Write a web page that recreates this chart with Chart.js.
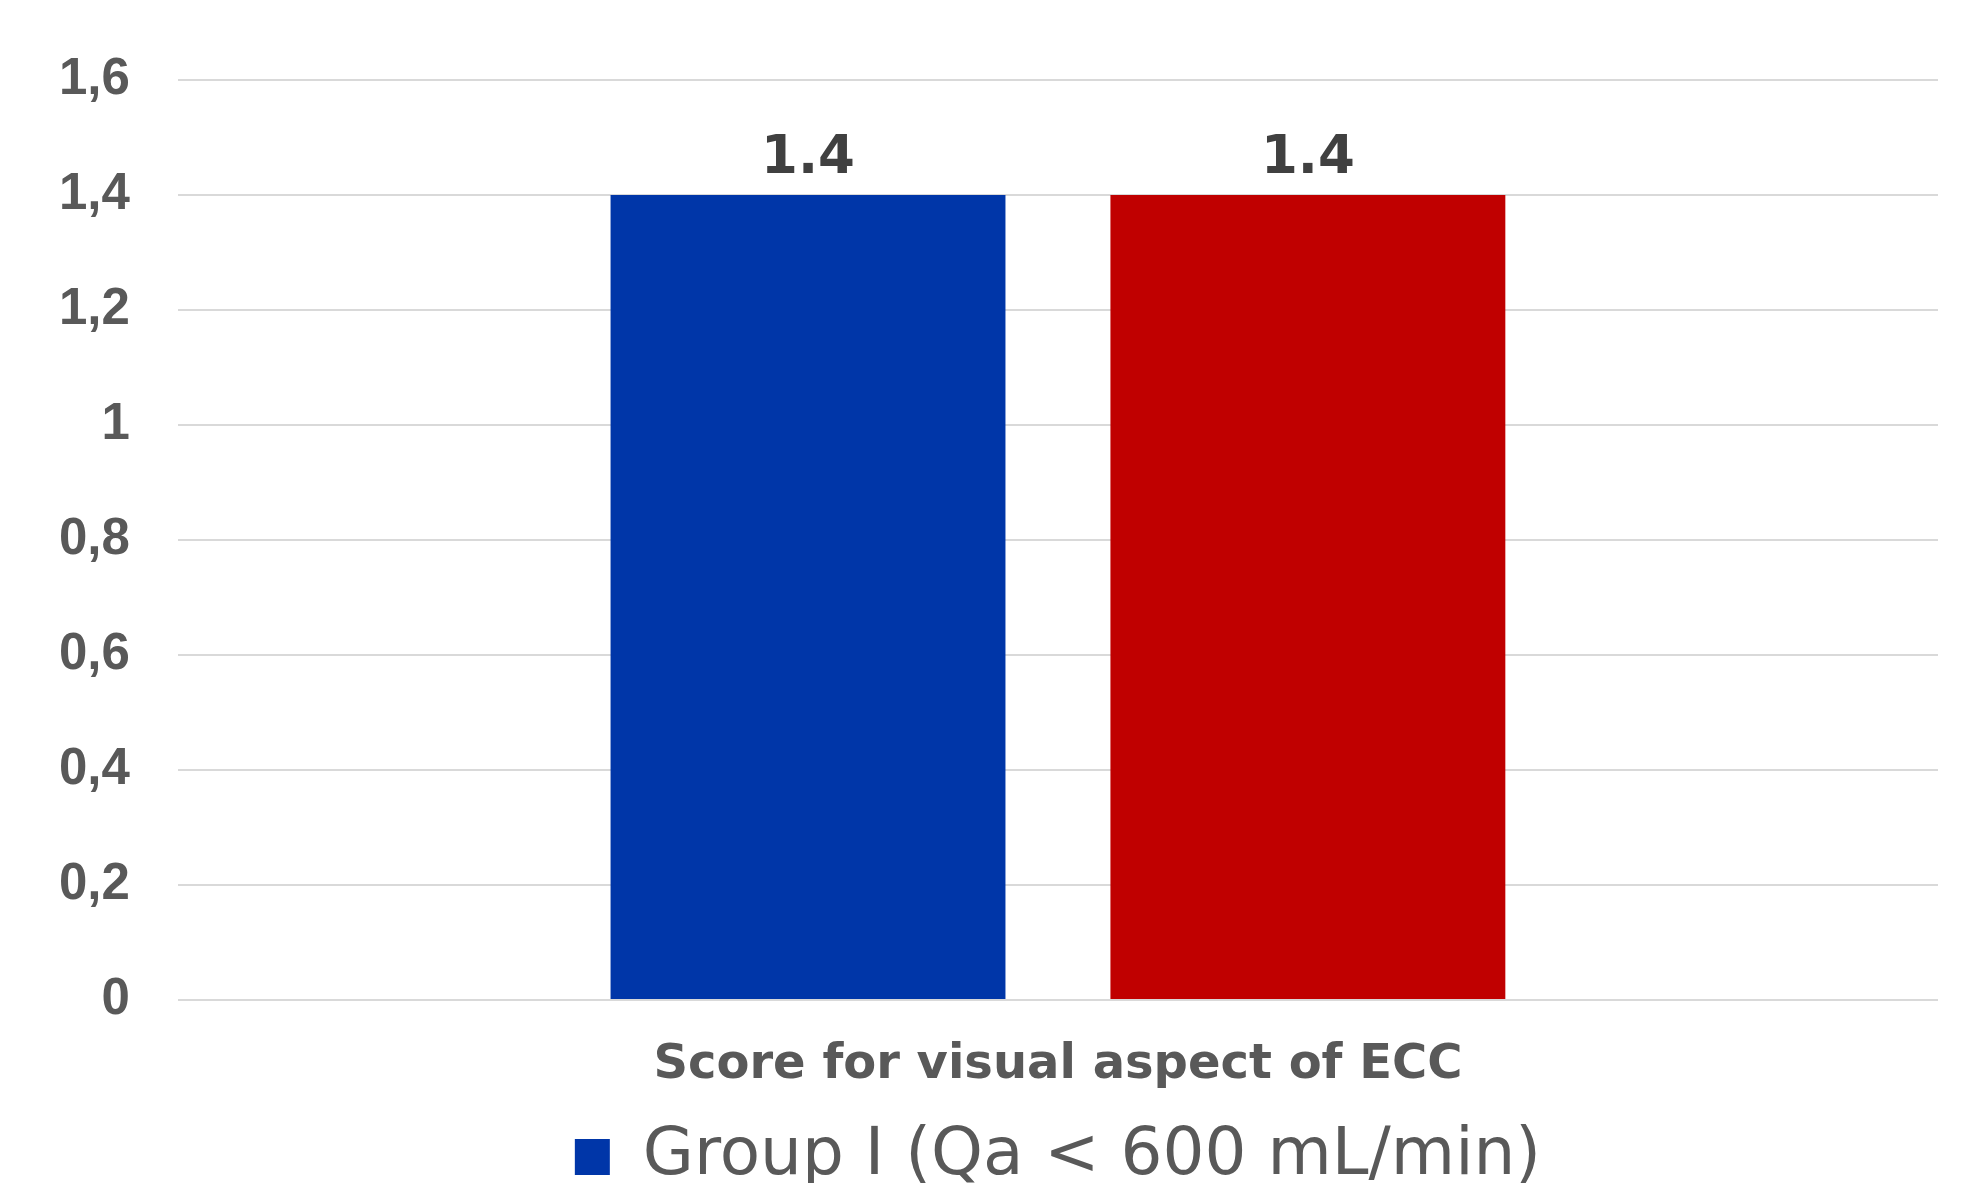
<!DOCTYPE html>
<html>
<head>
<meta charset="utf-8">
<script src="https://cdn.jsdelivr.net/npm/chart.js@4.4.0/dist/chart.umd.min.js"></script>
<style>
    html, body { margin: 0; padding: 0; background: #ffffff; overflow: hidden; }
    #frame { width: 1967px; height: 1183px; overflow: hidden; }
</style>
</head>
<body>
<div id="frame">
    <canvas id="scoreChart" width="1967" height="1286"></canvas>
</div>
<script>
    // values
    var categories = ['Score for visual aspect of ECC'];
    var groupLabels = ['Group I (Qa < 600 mL/min)', 'Group II (Qa \u2265 600 mL/min)'];
    var groupOne = [1.4];
    var groupTwo = [1.4];
    var groupColors = ['#0036A8', '#C00000'];
    var yTickLabels = ['0', '0,2', '0,4', '0,6', '0,8', '1', '1,2', '1,4', '1,6'];

    // draws the value above each bar, like the data labels in the original
    var barValueLabels = {
        id: 'barValueLabels',
        afterDatasetsDraw: function(chart) {
            var ctx = chart.ctx;
            ctx.save();
            ctx.font = 'bold 53px "DejaVu Sans"';
            ctx.fillStyle = '#404040';
            ctx.textAlign = 'center';
            ctx.textBaseline = 'alphabetic';
            chart.data.datasets.forEach(function(ds, i) {
                chart.getDatasetMeta(i).data.forEach(function(bar, j) {
                    ctx.fillText(ds.data[j].toString(), bar.x, bar.y - 22);
                });
            });
            ctx.restore();
        }
    };

    function makeDataset(label, data, color) {
        return {
            label: label,
            data: data,
            backgroundColor: color,
            borderWidth: 0,
            categoryPercentage: 0.568,
            barPercentage: 0.79
        };
    }

    var ctx = document.getElementById('scoreChart').getContext('2d');
    var scoreChart = new Chart(ctx, {
        type: 'bar',
        data: {
            labels: categories,
            datasets: [
                makeDataset(groupLabels[0], groupOne, groupColors[0]),
                makeDataset(groupLabels[1], groupTwo, groupColors[1])
            ]
        },
        plugins: [barValueLabels],
        options: {
            responsive: false,
            animation: false,
            layout: {
                padding: { top: 80, right: 29, bottom: 0, left: 11 }
            },
            plugins: {
                title: { display: false },
                tooltip: { enabled: false },
                legend: {
                    position: 'bottom',
                    fullSize: false,
                    labels: {
                        boxWidth: 35,
                        boxHeight: 36,
                        padding: 20,
                        color: '#595959',
                        font: { family: '"DejaVu Sans"', size: 66 }
                    }
                }
            },
            scales: {
                x: {
                    grid: { display: false, drawTicks: false },
                    border: { display: false },
                    ticks: {
                        color: '#595959',
                        padding: 37,
                        font: { family: '"DejaVu Sans"', size: 48, weight: 'bold', lineHeight: 1.2 }
                    },
                    afterFit: function(scale) {
                        // keep the gap between the category label and the legend as in the original
                        scale.height = 104;
                    }
                },
                y: {
                    min: 0,
                    max: 1.6,
                    grid: { color: '#d9d9d9', lineWidth: 2, drawTicks: false },
                    border: { display: false },
                    ticks: {
                        stepSize: 0.2,
                        padding: 48,
                        color: '#595959',
                        font: { family: '"Liberation Sans"', size: 51, weight: 'bold' },
                        callback: function(value, index) {
                            return yTickLabels[index];
                        }
                    }
                }
            }
        }
    });
</script>
</body>
</html>
